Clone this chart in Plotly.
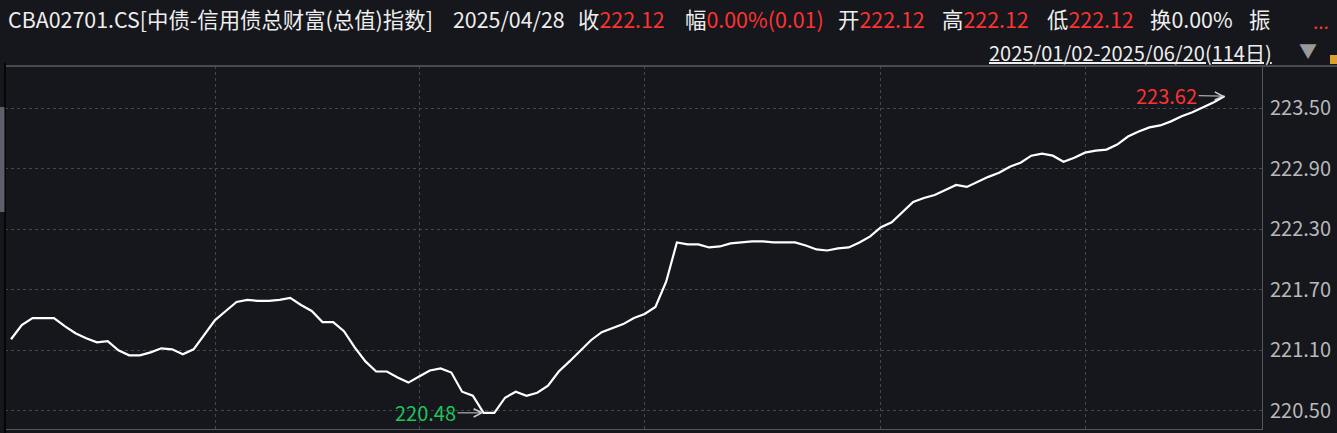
import plotly.graph_objects as go

# ---------------- data ----------------
values = [
    221.21, 221.35, 221.42, 221.42, 221.42, 221.34, 221.27, 221.22, 221.18, 221.19,
    221.10, 221.05, 221.05, 221.08, 221.12, 221.11, 221.06, 221.11, 221.25, 221.40,
    221.49, 221.58, 221.60, 221.59, 221.59, 221.60, 221.62, 221.55, 221.49, 221.38,
    221.38, 221.29, 221.13, 220.99, 220.89, 220.89, 220.83, 220.78, 220.84, 220.90,
    220.92, 220.88, 220.69, 220.65, 220.48, 220.48, 220.63, 220.69, 220.65, 220.68,
    220.75, 220.89, 220.99, 221.09, 221.20, 221.28, 221.32, 221.36, 221.42, 221.46,
    221.53, 221.78, 222.17, 222.15, 222.15, 222.12, 222.13, 222.16, 222.17, 222.18,
    222.18, 222.17, 222.17, 222.17, 222.14, 222.10, 222.09, 222.11, 222.12, 222.17,
    222.23, 222.32, 222.37, 222.47, 222.57, 222.61, 222.64, 222.69, 222.74, 222.72,
    222.77, 222.82, 222.86, 222.92, 222.96, 223.03, 223.05, 223.03, 222.97, 223.01,
    223.06, 223.08, 223.09, 223.14, 223.22, 223.27, 223.31, 223.33, 223.37, 223.42,
    223.46, 223.51, 223.56, 223.62,
]
day_index = list(range(len(values)))          # 114 trading days 2025/01/02 - 2025/06/20
month_start_idx = [19, 38, 59, 81, 100]       # first trading day of Feb..Jun
y_ticks = [220.50, 221.10, 221.70, 222.30, 222.90, 223.50]
max_label = "223.62"
min_label = "220.48"

title_text = "CBA02701.CS[中债-信用债总财富(总值)指数]"
date_text = "2025/04/28"
header_items = [   # (label, value, value colour key)
    ("收", "222.12", "red"),
    ("幅", "0.00%(0.01)", "red"),
    ("开", "222.12", "red"),
    ("高", "222.12", "red"),
    ("低", "222.12", "red"),
    ("换", "0.00%", "white"),
    ("振", "", "red"),
]
range_text = "2025/01/02-2025/06/20(114日)"

# ---------------- style ----------------
W, H = 1337, 433
L, R, T, B = 5, 75, 66, 4
BG = "#15171c"
RED = "#ff3232"
GREEN = "#1fc35a"
WHITE = "#eeeeee"
GRID = "#43464d"
AXIS_TXT = "#b9b9b9"
FONT = "Noto Sans CJK SC, Noto Sans, sans-serif"

def px(xpix):
    return (xpix - L) / (W - L - R)

def py(ypix):
    return 1 - (ypix - T) / (H - T - B)

fig = go.Figure()
fig.add_trace(go.Scatter(x=day_index, y=values, mode="lines",
                         line=dict(color="#ffffff", width=2.2), hoverinfo="skip"))

i_max = max(range(len(values)), key=lambda i: values[i])
i_min = min(range(len(values)), key=lambda i: values[i])

ann = []
ann.append(dict(x=i_max, y=values[i_max], xref="x", yref="y", text=max_label,
                showarrow=True, arrowhead=5, arrowsize=1.6, arrowwidth=1,
                arrowcolor="#cfcfcf", ax=-58, ay=-1,
                font=dict(family=FONT, size=20, color=RED)))
ann.append(dict(x=i_min, y=values[i_min], xref="x", yref="y", text=min_label,
                showarrow=True, arrowhead=5, arrowsize=1.6, arrowwidth=1,
                arrowcolor="#cfcfcf", ax=-58, ay=0,
                font=dict(family=FONT, size=20, color=GREEN)))

HF = 21.4
ann.append(dict(x=px(6), y=py(19), xref="paper", yref="paper", xanchor="left", yanchor="middle",
                text=title_text, showarrow=False, font=dict(family=FONT, size=HF, color=WHITE)))
ann.append(dict(x=px(451), y=py(19), xref="paper", yref="paper", xanchor="left", yanchor="middle",
                text=date_text, showarrow=False, font=dict(family=FONT, size=HF, color=WHITE)))
item_x = [576, 683, 836, 940, 1045, 1148, 1247]
for (lab, val, ck), xp in zip(header_items, item_x):
    col = RED if ck == "red" else WHITE
    t = lab + (f"<span style='color:{col}'>{val}</span>" if val else "")
    ann.append(dict(x=px(xp), y=py(19), xref="paper", yref="paper", xanchor="left", yanchor="middle",
                    text=t, showarrow=False, font=dict(family=FONT, size=HF, color=WHITE)))
ann.append(dict(x=px(1311), y=py(20), xref="paper", yref="paper", xanchor="left", yanchor="middle",
                text="...", showarrow=False, font=dict(family=FONT, size=19, color=RED)))
ann.append(dict(x=px(987), y=py(52), xref="paper", yref="paper", xanchor="left", yanchor="middle",
                text=f"<u>{range_text}</u>", showarrow=False, font=dict(family=FONT, size=20, color=WHITE)))
ann.append(dict(x=px(1297), y=py(50), xref="paper", yref="paper", xanchor="left", yanchor="middle",
                text="▼", showarrow=False, font=dict(family=FONT, size=18, color="#9a9a9a")))

shapes = [
    dict(type="line", xref="paper", yref="paper", x0=px(5), x1=px(1337), y0=py(66), y1=py(66),
         line=dict(color="#4a4b50", width=2)),
    dict(type="line", xref="paper", yref="paper", x0=px(5), x1=px(5), y0=py(63), y1=py(433),
         line=dict(color="#050505", width=2)),
    dict(type="rect", xref="paper", yref="paper", x0=px(0), x1=px(4.5), y0=py(107), y1=py(212),
         fillcolor="#5d5e6a", line=dict(width=0)),
    dict(type="rect", xref="paper", yref="paper", x0=px(1330), x1=px(1337), y0=py(55), y1=py(64),
         fillcolor="#d7a12a", line=dict(width=0)),
]

fig.update_layout(
    width=W, height=H,
    margin=dict(l=L, r=R, t=T, b=B, autoexpand=False),
    paper_bgcolor=BG, plot_bgcolor=BG,
    showlegend=False,
    annotations=ann, shapes=shapes,
    xaxis=dict(range=[-0.56, 116.48], tickvals=month_start_idx, showticklabels=False,
               showgrid=True, gridcolor=GRID, griddash="dot", gridwidth=1, automargin=False,
               zeroline=False, showline=True, linecolor="#55565b", linewidth=1, ticks=""),
    yaxis=dict(range=[220.32, 223.919], side="right", tickvals=y_ticks,
               ticktext=[f"{v:.2f}" for v in y_ticks], automargin=False,
               showgrid=True, gridcolor=GRID, griddash="dot", gridwidth=1,
               zeroline=False, showline=True, linecolor="#55565b", linewidth=1, ticks="",
               ticklabelstandoff=3,
               tickfont=dict(family=FONT, size=20, color=AXIS_TXT)),
)

fig.write_html("out.html", config={"displayModeBar": False},
               post_script="document.body.style.margin='0';document.body.style.background='" + BG + "';")
